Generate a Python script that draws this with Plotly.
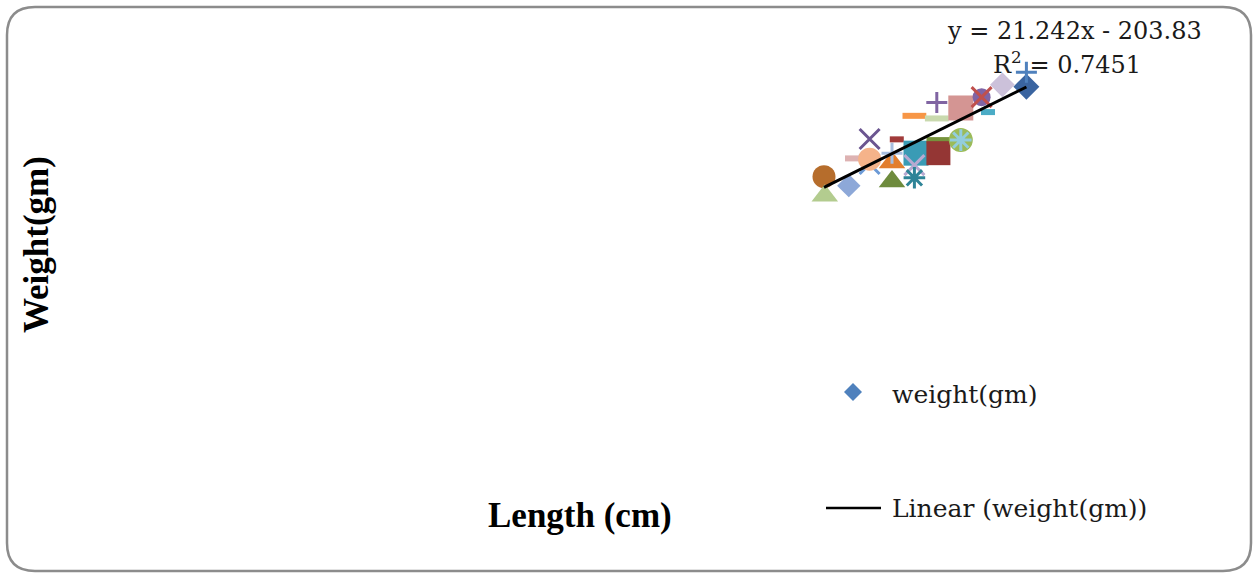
import plotly.graph_objects as go

W, H = 1254, 575

# Fish samples: length (cm) and weight (g), in drawing order
length_cm = [47.75, 47.8, 49.3, 49.5, 50.6, 50.6, 50.6, 52.0, 52.0, 52.0,
             52.3, 53.5, 53.4, 53.4, 54.9, 54.9, 56.3, 56.3, 53.4, 54.8,
             54.8, 56.3, 57.6, 57.6, 58.0, 58.9, 60.4, 60.4]
weight_gm = [839, 788, 815, 888, 873, 886, 940, 877, 902, 826,
             939, 902, 870, 836, 937, 902, 937, 937, 1002, 995,
             1038, 1023, 1052, 1052, 1012, 1085, 1080, 1119]

# Linear trendline coefficients and fit quality
slope = 21.242
intercept = -203.83
r_squared = 0.7451

# Per-point marker styling (varied by point)
symbols = ["circle", "triangle-up", "diamond", "line-ew", "x-thin", "circle", "x-thin",
           "triangle-up", "cross-thin", "triangle-up", "line-ew", "square", "x-thin",
           "asterisk", "line-ew", "square", "circle", "asterisk", "line-ew", "line-ew",
           "cross-thin", "square", "circle", "x-thin", "line-ew", "diamond", "diamond",
           "cross-thin"]
colors = ["#B66D2C", "#B3CC8F", "#8DA8D8", "#DDB2B2", "#6C9AD6", "#F5B38A", "#6B5590",
          "#E27E2E", "#A6BEE0", "#6E8B3D", "#A13B3A", "#3A9BB5", "#B7A9D1",
          "#2E8497", "#76923C", "#943634", "#9BBB59", "#93CDDD", "#F79646", "#C9D9AE",
          "#8064A2", "#D49593", "#7F64A5", "#C0504D", "#4BACC6", "#CCC1DA", "#3A64A0",
          "#4F81BD"]
sizes = [23, 23, 18, 10, 20, 23, 20,
         23, 15, 23, 10, 25, 20,
         18, 17, 24, 24, 18, 17, 17,
         15, 25, 18, 20, 10, 19, 20,
         15]
line_widths = []
for s in symbols:
    if s in ("x-thin", "cross-thin", "asterisk"):
        line_widths.append(3)
    elif s == "line-ew":
        line_widths.append(6)
    else:
        line_widths.append(0)


def px(x):
    return x / W


def py(y):
    return 1 - y / H


fig = go.Figure()

fig.add_trace(go.Scatter(
    x=length_cm, y=weight_gm, mode="markers", name="weight(gm)",
    marker=dict(symbol=symbols, color=colors, size=sizes, opacity=1,
                line=dict(color=colors, width=line_widths)),
    showlegend=False, hoverinfo="x+y",
))

x_min, x_max = min(length_cm), max(length_cm)
fig.add_trace(go.Scatter(
    x=[x_min, x_max], y=[slope * x_min + intercept, slope * x_max + intercept],
    mode="lines", name="Linear (weight(gm))",
    line=dict(color="black", width=3), showlegend=False, hoverinfo="skip",
))

# Rounded chart border
x0, y0, x1, y1, r = 7, 7, 1251, 571, 28
border = (
    f"M {px(x0 + r)},{py(y0)} L {px(x1 - r)},{py(y0)} "
    f"Q {px(x1)},{py(y0)} {px(x1)},{py(y0 + r)} "
    f"L {px(x1)},{py(y1 - r)} Q {px(x1)},{py(y1)} {px(x1 - r)},{py(y1)} "
    f"L {px(x0 + r)},{py(y1)} Q {px(x0)},{py(y1)} {px(x0)},{py(y1 - r)} "
    f"L {px(x0)},{py(y0 + r)} Q {px(x0)},{py(y0)} {px(x0 + r)},{py(y0)} Z"
)
shapes = [dict(type="path", path=border, xref="paper", yref="paper",
               line=dict(color="#8C8C8C", width=2.5), layer="below")]

# Legend keys
lx, ly, d = 853, 392, 9
shapes.append(dict(
    type="path", xref="paper", yref="paper", line=dict(width=0), fillcolor="#4F81BD",
    path=f"M {px(lx)},{py(ly - d)} L {px(lx + d)},{py(ly)} L {px(lx)},{py(ly + d)} "
         f"L {px(lx - d)},{py(ly)} Z"))
shapes.append(dict(type="line", xref="paper", yref="paper",
                   x0=px(826), x1=px(881), y0=py(508), y1=py(508),
                   line=dict(color="black", width=2.5)))

serif = "DejaVu Serif"
bold_serif = "Liberation Serif"
annotations = [
    dict(text=f"y = {slope}x - {abs(intercept)}", x=px(1074), y=py(31),
         font=dict(family=serif, size=24, color="#1A1A1A"), xanchor="center", yanchor="middle"),
    dict(text=f"R<sup>2</sup> = {r_squared}", x=px(1067), y=py(63),
         font=dict(family=serif, size=24, color="#1A1A1A"), xanchor="center", yanchor="middle"),
    dict(text="weight(gm)", x=px(890), y=py(394),
         font=dict(family=serif, size=25, color="#1A1A1A"), xanchor="left", yanchor="middle"),
    dict(text="Linear (weight(gm))", x=px(890), y=py(508),
         font=dict(family=serif, size=25, color="#1A1A1A"), xanchor="left", yanchor="middle"),
    dict(text="<b>Length (cm)</b>", x=px(580), y=py(515),
         font=dict(family=bold_serif, size=35, color="black"), xanchor="center", yanchor="middle"),
    dict(text="<b>Weight(gm)</b>", x=px(36), y=py(245), textangle=-90,
         font=dict(family=bold_serif, size=35, color="black"), xanchor="center", yanchor="middle"),
]
for a in annotations:
    a.update(xref="paper", yref="paper", showarrow=False)

fig.update_layout(
    width=W, height=H,
    margin=dict(l=0, r=0, t=0, b=0),
    paper_bgcolor="white", plot_bgcolor="white",
    xaxis=dict(visible=False, range=[0, 65], domain=[60 / W, 1100 / W]),
    yaxis=dict(visible=False, range=[0, 1272], domain=[1 - 490 / H, 1 - 15 / H]),
    shapes=shapes, annotations=annotations,
)

fig.write_html("out.html")
